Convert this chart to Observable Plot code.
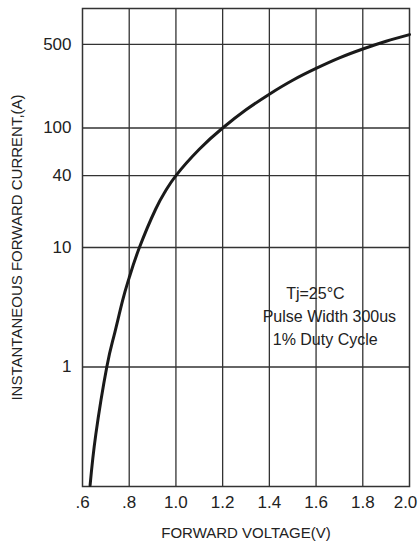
<!DOCTYPE html>
<html>
<head>
<meta charset="utf-8">
<script src="https://cdn.jsdelivr.net/npm/d3@7"></script>
<script src="https://cdn.jsdelivr.net/npm/@observablehq/plot@0.6"></script>
<style>
  html, body { margin: 0; padding: 0; background: #fff; }
  svg { display: block; }
</style>
</head>
<body>
<div id="chart"></div>
<script>
// Forward voltage (V) vs instantaneous forward current (A)
const voltage = [0.6325, 0.657, 0.704, 0.735, 0.771, 0.8, 0.842, 0.913, 0.956, 1.0, 1.1, 1.2, 1.3, 1.4, 1.5, 1.6, 1.7, 1.8, 1.9, 2.0];
const current = [0.102, 0.273, 1, 1.83, 3.56, 5.6, 9.8, 20.9, 29.8, 40, 66.4, 100, 142, 192, 251, 315, 386, 458, 532, 605];

const xTicks = [0.6, 0.8, 1.0, 1.2, 1.4, 1.6, 1.8, 2.0];
const xTickLabels = [".6", ".8", "1.0", "1.2", "1.4", "1.6", "1.8", "2.0"];
const yTicks = [1, 10, 40, 100, 500];
const yTickLabels = ["1", "10", "40", "100", "500"];

const xLabel = "FORWARD VOLTAGE(V)";
const yLabel = "INSTANTANEOUS FORWARD CURRENT,(A)";

const noteLines = ["Tj=25°C", "Pulse Width 300us", "1% Duty Cycle"];
const noteX = [1.597, 1.657, 1.639];
const noteY = [4.09, 2.61, 1.70];

const data = voltage.map((v, i) => ({v, i: current[i]}));
const notes = noteLines.map((t, k) => ({t, x: noteX[k], y: noteY[k]}));
const xFmt = d => xTickLabels[xTicks.findIndex(t => Math.abs(t - d) < 1e-9)];
const yFmt = d => yTickLabels[yTicks.indexOf(d)];

const gridColor = "#333";
const chart = Plot.plot({
  width: 419,
  height: 545,
  marginLeft: 82,
  marginRight: 10,
  marginTop: 8,
  marginBottom: 59,
  style: {fontFamily: "'Liberation Sans', Arial, sans-serif", color: "#222", background: "#fff"},
  x: {domain: [0.6, 2.0]},
  y: {type: "log", domain: [0.1, 1000], axis: null},
  marks: [
    Plot.ruleX(xTicks.slice(1, -1), {stroke: gridColor, strokeWidth: 1.3}),
    Plot.ruleY(yTicks, {stroke: gridColor, strokeWidth: 1.3}),
    Plot.frame({stroke: gridColor, strokeWidth: 1.5}),
    Plot.line(data, {x: "v", y: "i", stroke: "#1a1a1a", strokeWidth: 3, curve: "natural"}),
    Plot.axisX(xTicks.slice(0, -1), {tickSize: 0, tickPadding: 9, fontSize: 17, tickFormat: xFmt, label: null}),
    Plot.axisX([2.0], {tickSize: 0, tickPadding: 9, fontSize: 17, tickFormat: xFmt, label: null, dx: -4}),
    Plot.text(yTicks, {y: d => d, frameAnchor: "left", dx: -11, textAnchor: "end", lineAnchor: "middle", text: yFmt, fontSize: 17, fill: "#222"}),
    Plot.text([xLabel], {frameAnchor: "bottom", dy: 47, lineAnchor: "middle", textAnchor: "middle", text: d => d, fontSize: 15, fill: "#222"}),
    Plot.text([yLabel], {frameAnchor: "left", dx: -65, rotate: -90, textAnchor: "middle", lineAnchor: "middle", text: d => d, fontSize: 15, fill: "#222"}),
    Plot.text(notes, {x: "x", y: "y", text: "t", fontSize: 16, fill: "#222"})
  ]
});
document.getElementById("chart").appendChild(chart);
</script>
</body>
</html>
